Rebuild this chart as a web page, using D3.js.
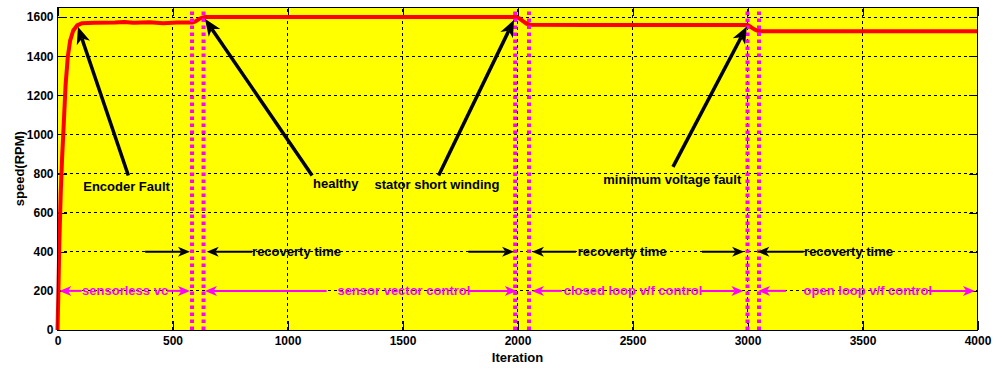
<!DOCTYPE html>
<html>
<head>
<meta charset="utf-8">
<script src="https://cdn.jsdelivr.net/npm/d3@7"></script>
<style>
  body { margin: 0; background: #fff; }
  svg text { font-family: "Liberation Sans", Arial, sans-serif; font-weight: bold; }
</style>
</head>
<body>
<div id="chart"></div>
<script>
// axis ticks
const xTicks = [0, 500, 1000, 1500, 2000, 2500, 3000, 3500, 4000];
const yTicks = [0, 200, 400, 600, 800, 1000, 1200, 1400, 1600];

// speed trace (iteration, rpm)
const speedIter = [0, 3, 8, 14, 20, 27, 35, 45, 55, 68, 85, 105, 160, 250, 290, 330, 400, 460, 520, 585,
  600, 615, 630, 642, 900, 1300, 1700, 1995, 2010, 2025, 2040, 2055, 2300, 2700, 3000, 3015, 3030, 3045, 3060, 3500, 4000];
const speedRpm = [0, 150, 450, 700, 880, 1050, 1250, 1400, 1480, 1530, 1558, 1568, 1571, 1572, 1575, 1571, 1573, 1568, 1572, 1572,
  1578, 1590, 1598, 1600, 1601, 1600, 1601, 1600, 1592, 1578, 1566, 1561, 1560, 1559, 1559, 1549, 1537, 1530, 1528, 1527, 1527];

// magenta dotted boundaries between control modes
const boundaryIter = [585, 635, 1990, 2050, 3000, 3050];

// fault annotations
const faultLabels = ["Encoder Fault", "healthy", "stator short winding", "minimum voltage fault"];
const faultLabelIter = [112, 1111, 1378, 2373];
const faultLabelRpm = [733, 747, 745, 771];
const faultTail = [[308, 790], [1107, 790], [1657, 790], [2676, 834]];
const faultTip = [[89, 1550], [641, 1591], [1985, 1586], [2997, 1552]];

// recovery-time markers at 400 rpm
const recoveryRpm = 400;
const recoveryRight = [[381, 576], [1786, 1985], [2802, 2985]];
const recoveryLeft = [[846, 649], [2254, 2063], [3244, 3043]];
const recoveryTextIter = [846, 2262, 3246];

// control mode spans at 200 rpm
const modeRpm = 200;
const modeLabels = ["sensorless vc", "sensor vector control", "closed loop v/f control", "open loop v/f control"];
const modeLeft = [[105, 8], [1170, 641], [2193, 2063], [3167, 3046]];
const modeRight = [[476, 576], [1786, 1997], [2793, 2982], [3792, 3989]];
const modeTextIter = [107, 1217, 2201, 3244];

const width = 1000, height = 373;
const margin = { top: 7.3, right: 22.5, bottom: 43, left: 57.5 };

const svg = d3.select('#chart').append('svg')
  .attr('width', width)
  .attr('height', height);

const x = d3.scaleLinear().domain([0, 4000]).range([margin.left, width - margin.right]);
const y = d3.scaleLinear().domain([0, 1650]).range([height - margin.bottom, margin.top]);

// plot background
svg.append('rect')
  .attr('x', x(0)).attr('y', y(1650))
  .attr('width', x(4000) - x(0)).attr('height', y(0) - y(1650))
  .attr('fill', '#ffff00');

// grid
const grid = svg.append('g').attr('stroke', '#000').attr('stroke-width', 1)
  .attr('stroke-dasharray', '3,3').attr('shape-rendering', 'crispEdges');
grid.selectAll('.gx').data(xTicks.slice(1, -1)).enter().append('line')
  .attr('x1', d => x(d)).attr('x2', d => x(d))
  .attr('y1', y(0)).attr('y2', y(1650));
grid.selectAll('.gy').data(yTicks.slice(1)).enter().append('line')
  .attr('x1', x(0)).attr('x2', x(4000))
  .attr('y1', d => y(d)).attr('y2', d => y(d));

// axes, ticks pointing inward on all four sides
const tickLen = 9;
const fmt = d3.format('d');
svg.append('g').attr('transform', `translate(0,${y(0)})`)
  .call(d3.axisBottom(x).tickValues(xTicks).tickFormat(fmt).tickSizeInner(-tickLen).tickSizeOuter(0).tickPadding(6));
svg.append('g').attr('transform', `translate(0,${y(1650)})`)
  .call(d3.axisTop(x).tickValues(xTicks).tickSizeInner(-tickLen).tickSizeOuter(0).tickFormat(''));
svg.append('g').attr('transform', `translate(${x(0)},0)`)
  .call(d3.axisLeft(y).tickValues(yTicks).tickFormat(fmt).tickSizeInner(-tickLen).tickSizeOuter(0).tickPadding(4));
svg.append('g').attr('transform', `translate(${x(4000)},0)`)
  .call(d3.axisRight(y).tickValues(yTicks).tickSizeInner(-tickLen).tickSizeOuter(0).tickFormat(''));

svg.selectAll('.domain').remove();
svg.selectAll('.tick line').attr('stroke', '#000').attr('shape-rendering', 'crispEdges');
svg.selectAll('.tick text')
  .attr('fill', '#000')
  .style('font-size', '12px')
  .style('font-family', '"Liberation Sans", Arial, sans-serif')
  .style('font-weight', 'bold');

// speed curve
const speed = speedIter.map((d, i) => ({ iter: d, rpm: speedRpm[i] }));
const line = d3.line().x(d => x(d.iter)).y(d => y(d.rpm));
svg.append('path')
  .datum(speed)
  .attr('fill', 'none')
  .attr('stroke', '#ff0000')
  .attr('stroke-width', 4)
  .attr('stroke-linejoin', 'round')
  .attr('d', line);

// mode boundaries
svg.selectAll('.boundary').data(boundaryIter).enter().append('line')
  .attr('x1', d => x(d)).attr('x2', d => x(d))
  .attr('y1', y(0)).attr('y2', y(1650))
  .attr('stroke', '#ff00ff')
  .attr('stroke-width', 4)
  .attr('stroke-dasharray', '3.5,3.5');

// box
svg.append('rect')
  .attr('x', x(0)).attr('y', y(1650))
  .attr('width', x(4000) - x(0)).attr('height', y(0) - y(1650))
  .attr('fill', 'none').attr('stroke', '#000').attr('stroke-width', 1)
  .attr('shape-rendering', 'crispEdges');

// arrow from tail to tip (pixel space), MATLAB-like notched head
function arrow(g, x1, y1, x2, y2, color, lw, len, wid) {
  const dx = x2 - x1, dy = y2 - y1, L = Math.hypot(dx, dy);
  const ux = dx / L, uy = dy / L, px = -uy, py = ux;
  const bx = x2 - ux * len, by = y2 - uy * len;
  const nx = x2 - ux * len * 0.72, ny = y2 - uy * len * 0.72;
  g.append('line')
    .attr('x1', x1).attr('y1', y1).attr('x2', nx).attr('y2', ny)
    .attr('stroke', color).attr('stroke-width', lw);
  g.append('polygon')
    .attr('points', [[x2, y2], [bx + px * wid / 2, by + py * wid / 2], [nx, ny], [bx - px * wid / 2, by - py * wid / 2]].map(p => p.join(',')).join(' '))
    .attr('fill', color);
}

const ann = svg.append('g');

// fault arrows + labels
faultTail.forEach((t, i) => {
  arrow(ann, x(t[0]), y(t[1]), x(faultTip[i][0]), y(faultTip[i][1]), '#000', 3.5, 17, 14);
});
ann.selectAll('.flabel').data(faultLabels).enter().append('text')
  .attr('x', (d, i) => x(faultLabelIter[i]))
  .attr('y', (d, i) => y(faultLabelRpm[i]))
  .attr('dy', '0.35em')
  .attr('fill', '#000')
  .style('font-size', '13px')
  .text(d => d);

// recovery time markers
recoveryRight.forEach(r => arrow(ann, x(r[0]), y(recoveryRpm), x(r[1]), y(recoveryRpm), '#000', 2, 12, 10));
recoveryLeft.forEach(r => arrow(ann, x(r[0]), y(recoveryRpm), x(r[1]), y(recoveryRpm), '#000', 2, 12, 10));
ann.selectAll('.rlabel').data(recoveryTextIter).enter().append('text')
  .attr('x', d => x(d))
  .attr('y', y(recoveryRpm))
  .attr('dy', '0.35em')
  .attr('fill', '#000')
  .style('font-size', '13px')
  .text('recoverty time');

// control mode spans
modeLeft.forEach(r => arrow(ann, x(r[0]), y(modeRpm), x(r[1]), y(modeRpm), '#ff00ff', 2, 12, 10));
modeRight.forEach(r => arrow(ann, x(r[0]), y(modeRpm), x(r[1]), y(modeRpm), '#ff00ff', 2, 12, 10));
ann.selectAll('.mlabel').data(modeLabels).enter().append('text')
  .attr('x', (d, i) => x(modeTextIter[i]))
  .attr('y', y(modeRpm))
  .attr('dy', '0.35em')
  .attr('fill', '#ff00ff')
  .style('font-size', '13px')
  .text(d => d);

// axis titles
svg.append('text')
  .attr('x', (x(0) + x(4000)) / 2)
  .attr('y', 362)
  .attr('text-anchor', 'middle')
  .style('font-size', '13px')
  .text('Iteration');
svg.append('text')
  .attr('transform', `translate(24,${(y(0) + y(1650)) / 2}) rotate(-90)`)
  .attr('text-anchor', 'middle')
  .style('font-size', '13px')
  .text('speed(RPM)');
</script>
</body>
</html>
